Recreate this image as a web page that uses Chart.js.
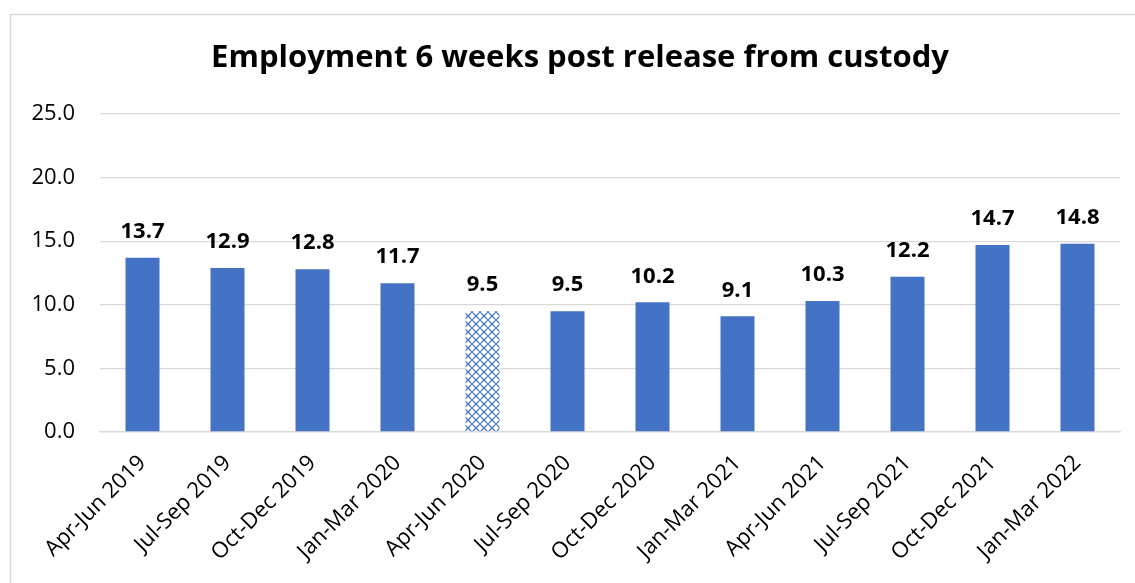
<!DOCTYPE html>
<html>
<head>
<meta charset="utf-8">
<script src="https://cdn.jsdelivr.net/npm/chart.js@4"></script>
<style>
  html, body { margin: 0; padding: 0; background: #fff; }
  #wrap { width: 1135px; height: 583px; position: relative; }
</style>
</head>
<body>
<div id="wrap"><canvas id="grafica" width="1135" height="583"></canvas></div>
<script>
const periodos = ["Apr-Jun 2019", "Jul-Sep 2019", "Oct-Dec 2019", "Jan-Mar 2020", "Apr-Jun 2020", "Jul-Sep 2020",
    "Oct-Dec 2020", "Jan-Mar 2021", "Apr-Jun 2021", "Jul-Sep 2021", "Oct-Dec 2021", "Jan-Mar 2022"];
const empleo = [13.7, 12.9, 12.8, 11.7, 9.5, 9.5, 10.2, 9.1, 10.3, 12.2, 14.7, 14.8];
// periodo con datos no comparables, se dibuja con trama
const conTrama = ["Apr-Jun 2020"];
const titulo = "Employment 6 weeks post release from custody";

const azul = "#4472c4";
const fuente = "'Open Sans', Lato, sans-serif";

// trama de pequeñas cruces para la barra marcada
function crearTrama() {
    const c = document.createElement("canvas");
    c.width = 8;
    c.height = 8;
    const g = c.getContext("2d");
    g.fillStyle = "#fff";
    g.fillRect(0, 0, 8, 8);
    g.strokeStyle = azul;
    g.lineWidth = 1.2;
    g.beginPath();
    g.moveTo(1, 1); g.lineTo(7, 7);
    g.moveTo(7, 1); g.lineTo(1, 7);
    g.stroke();
    g.fillStyle = azul;
    g.fillRect(0, 0, 1, 1);
    g.fillRect(7, 7, 1, 1);
    g.fillRect(7, 0, 1, 1);
    g.fillRect(0, 7, 1, 1);
    return g.createPattern(c, "repeat");
}
const trama = crearTrama();
const colores = periodos.map(p => conTrama.includes(p) ? trama : azul);

// marco gris y titulo (centrado sobre el marco, no sobre el canvas)
const marco = {
    id: "marco",
    beforeDraw(chart) {
        const ctx = chart.ctx;
        ctx.save();
        ctx.strokeStyle = "#d9d9d9";
        ctx.lineWidth = 1.5;
        ctx.strokeRect(10.5, 14.5, 1140, 600);
        ctx.font = "bold 31px " + fuente;
        ctx.fillStyle = "#000";
        ctx.textAlign = "center";
        ctx.textBaseline = "middle";
        ctx.fillText(titulo, 580, 58);
        ctx.restore();
    }
};

// etiquetas de valor encima de cada barra
const etiquetas = {
    id: "etiquetas",
    afterDatasetsDraw(chart) {
        const ctx = chart.ctx;
        const meta = chart.getDatasetMeta(0);
        ctx.save();
        ctx.font = "bold 22px " + fuente;
        ctx.fillStyle = "#000";
        ctx.textAlign = "center";
        ctx.textBaseline = "middle";
        meta.data.forEach((bar, i) => {
            ctx.fillText(empleo[i].toFixed(1), bar.x, bar.y - 26);
        });
        ctx.restore();
    }
};

new Chart(document.getElementById("grafica").getContext("2d"), {
    type: "bar",
    data: {
        labels: periodos,
        datasets: [{
            label: "Employment",
            data: empleo,
            backgroundColor: colores,
            borderWidth: 0,
            categoryPercentage: 1,
            barPercentage: 0.4
        }]
    },
    options: {
        responsive: false,
        animation: false,
        layout: { padding: { top: 114, right: 15, left: 0, bottom: 0 } },
        plugins: {
            legend: { display: false },
            tooltip: { enabled: false },
            title: { display: false }
        },
        scales: {
            y: {
                min: 0,
                max: 25,
                ticks: {
                    stepSize: 5,
                    color: "#000",
                    padding: 25,
                    font: { family: fuente, size: 22 },
                    callback: v => v.toFixed(1)
                },
                grid: { color: "#d9d9d9", lineWidth: 1.3, drawTicks: false },
                border: { display: false },
                afterFit(scale) { scale.width = 100; }
            },
            x: {
                ticks: {
                    color: "#000",
                    minRotation: 45,
                    maxRotation: 45,
                    padding: 18,
                    font: { family: fuente, size: 22 }
                },
                grid: { display: false, drawTicks: false },
                border: { color: "#d9d9d9", width: 1.3 },
                afterFit(scale) { scale.height = 151; }
            }
        }
    },
    plugins: [marco, etiquetas]
});
</script>
</body>
</html>
